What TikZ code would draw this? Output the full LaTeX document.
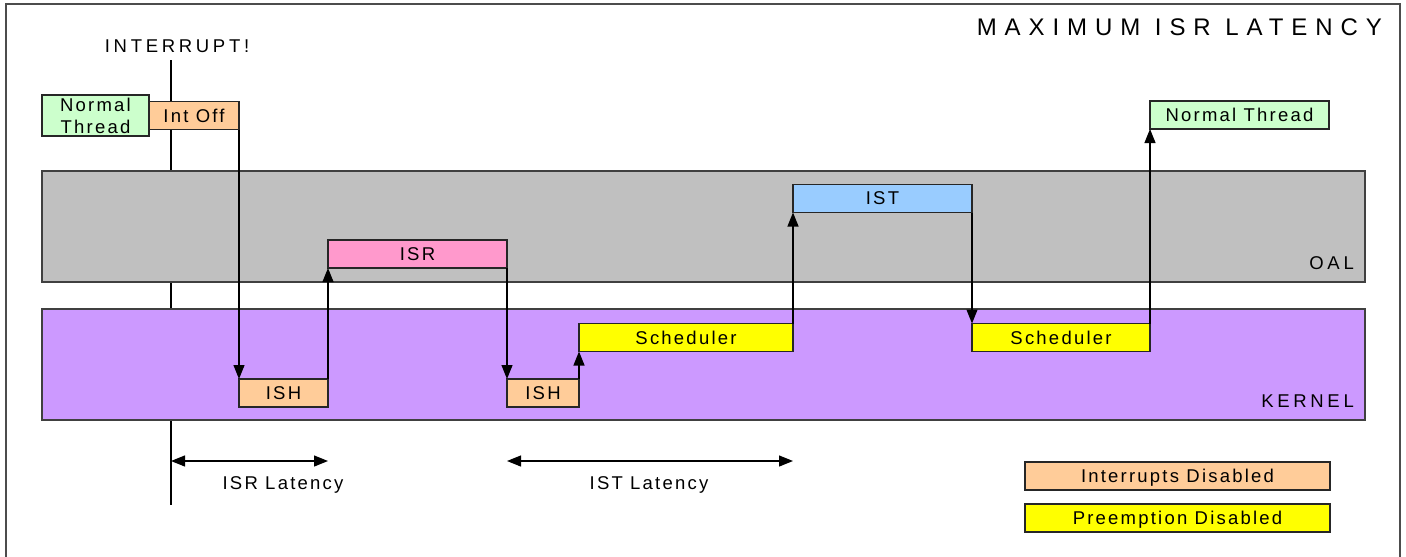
\documentclass[tikz,border=0pt]{standalone}
\usepackage{fontspec}
\setmainfont{Liberation Sans}
\newfontfamily\spcfont{Liberation Sans}[LetterSpace=12]
\newfontfamily\spccapsfont{Liberation Sans}[LetterSpace=20]
\newfontfamily\spcwidefont{Liberation Sans}[LetterSpace=33]
\usetikzlibrary{positioning,arrows.meta}
\definecolor{thrdgreen}{HTML}{CCFFCC}
\definecolor{introrange}{HTML}{FFCC99}
\definecolor{prmtyellow}{HTML}{FFFF00}
\definecolor{oalgray}{HTML}{C0C0C0}
\definecolor{kernpurple}{HTML}{CC99FF}
\definecolor{isrpink}{HTML}{FF99CC}
\definecolor{istblue}{HTML}{99CCFF}
\newcommand{\lblfont}{\spcfont\fontsize{18.5}{22}\selectfont}
\newcommand{\capsfont}{\spccapsfont\fontsize{18.5}{22}\selectfont}
\newcommand{\ttlfont}{\spcwidefont\fontsize{24}{28}\selectfont}

\begin{document}
\begin{tikzpicture}[x=1pt, y=-1pt,
  blk/.style={draw=black!85, line width=1.1pt, outer sep=0pt, inner sep=0pt, minimum height=28pt, font=\lblfont, anchor=north west},
  intr/.style={blk, fill=introrange},
  prmt/.style={blk, fill=prmtyellow},
  thrd/.style={blk, fill=thrdgreen},
  band/.style={draw=black!75, line width=1.1pt, outer sep=0pt, inner sep=0pt, minimum width=1323pt, minimum height=111pt, anchor=north west},
  lbl/.style={font=\lblfont, inner sep=0pt, text depth=0pt},
  caps/.style={font=\capsfont, inner sep=0pt, text depth=0pt},
  arr/.style={-{Triangle[length=14pt,width=11pt]}, line width=1.2pt},
  dim/.style={{Triangle[length=14pt,width=11pt]}-{Triangle[length=14pt,width=11pt]}, line width=1.2pt}
]
\useasboundingbox (0,0) rectangle (1406,557);
\draw[line width=1.1pt, black!70] (6,557) -- (6,4) -- (1400,4) -- (1400,557);
\node[font=\ttlfont, inner sep=0pt, anchor=north east] (title) at (1382,19) {MAXIMUM ISR LATENCY};

\coordinate (irqtop) at (171,60);
\coordinate (irqbot) at (171,505);
\node[caps, anchor=base] (irqtxt) at (177,52) {INTERRUPT!};
\draw[line width=1.1pt] (irqtop) -- (irqbot);

\node[band, fill=oalgray] (oal) at (42,171) {};
\node[band, fill=kernpurple] (kern) at (42,309) {};
\node[caps, anchor=south east] (oaltxt) at ([xshift=-11pt,yshift=12pt]oal.south east) {OAL};
\node[caps, anchor=south east] (kerntxt) at ([xshift=-11pt,yshift=12pt]kern.south east) {KERNEL};

\node[thrd, minimum width=107pt, minimum height=41pt, align=center] (ntA) at (42,95) {Normal\\Thread};
\node[intr, minimum width=90pt, right=0pt of ntA] (intoff) {Int Off};
\node[intr, minimum width=89pt] (ish1) at (239,379) {ISH};
\node[blk, fill=isrpink, minimum width=179pt] (isr) at (328,240) {ISR};
\node[intr, minimum width=72pt] (ish2) at (507,379) {ISH};
\node[prmt, minimum width=214pt] (sch1) at (579,323.5) {Scheduler};
\node[blk, fill=istblue, minimum width=179pt] (ist) at (793,184.5) {IST};
\node[prmt, minimum width=178pt] (sch2) at (972,323.5) {Scheduler};
\node[thrd, minimum width=179pt] (ntB) at (1150,101) {Normal Thread};

\draw[arr] (intoff.south east) -- (ish1.north west);
\draw[arr] (ish1.north east) -- (isr.south west);
\draw[arr] (isr.south east) -- (ish2.north west);
\draw[arr] (ish2.north east) -- (sch1.south west);
\draw[arr] (sch1.north east) -- (ist.south west);
\draw[arr] (ist.south east) -- (sch2.north west);
\draw[arr] (sch2.north east) -- (ntB.south west);

\coordinate (lat) at (0,461);
\draw[dim] (irqtop |- lat) -- (isr.south west |- lat);
\draw[dim] (isr.south east |- lat) -- (ist.south west |- lat);
\node[lbl] (isrlat) at (283,483) {ISR Latency};
\node[lbl] (istlat) at (649,483) {IST Latency};

\node[intr, minimum width=305pt, text depth=0pt] (legI) at (1025,462) {Interrupts Disabled};
\node[prmt, minimum width=305pt, text depth=0pt, below=14pt of legI] (legP) {Preemption Disabled};
\end{tikzpicture}
\end{document}
